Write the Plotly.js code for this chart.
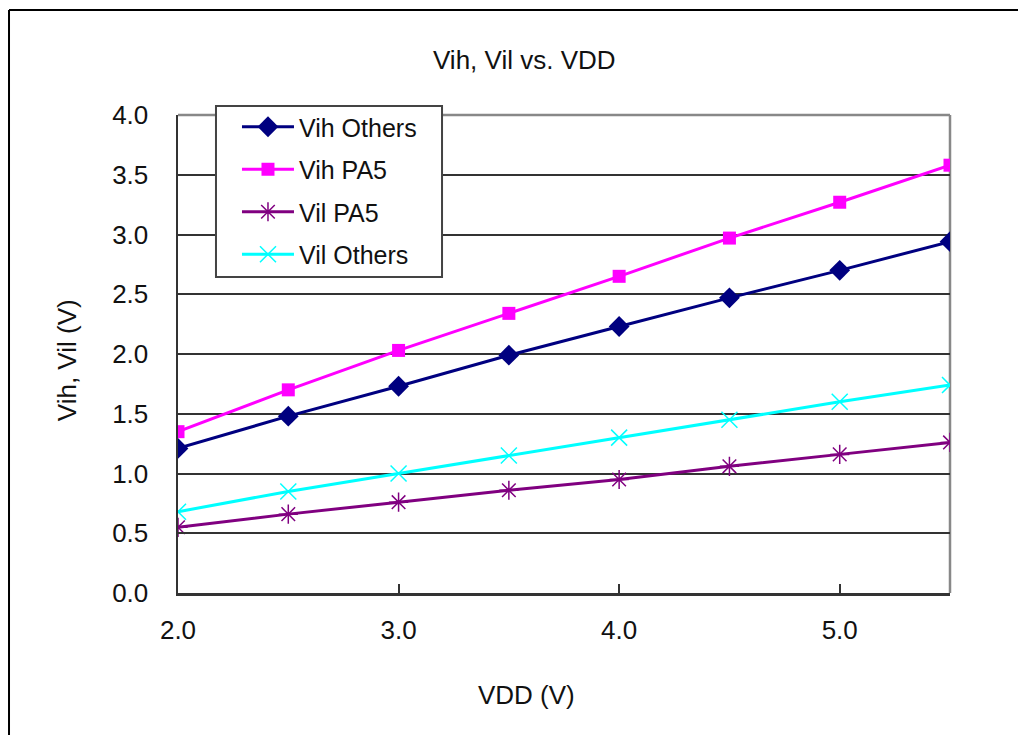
<!DOCTYPE html>
<html>
<head>
<meta charset="utf-8">
<script src="https://cdn.plot.ly/plotly-3.0.1.min.js"></script>
<style>
  html, body { margin: 0; padding: 0; background: #fff; }
  #chart { width: 1018px; height: 735px; }
</style>
</head>
<body>
<div id="chart"></div>
<script>
// ---- data ----
const vdd = [2.0, 2.5, 3.0, 3.5, 4.0, 4.5, 5.0, 5.5];
const vihOthers = [1.21, 1.48, 1.73, 1.99, 2.23, 2.47, 2.70, 2.94];
const vihPA5    = [1.35, 1.70, 2.03, 2.34, 2.65, 2.97, 3.27, 3.58];
const vilPA5    = [0.55, 0.66, 0.76, 0.86, 0.95, 1.06, 1.16, 1.26];
const vilOthers = [0.68, 0.85, 1.00, 1.15, 1.30, 1.45, 1.60, 1.74];
const seriesNames = ["Vih Others", "Vih PA5", "Vil PA5", "Vil Others"];
const xTickVals = [2.0, 3.0, 4.0, 5.0];
const yTickVals = [0.0, 0.5, 1.0, 1.5, 2.0, 2.5, 3.0, 3.5, 4.0];

const FONT = "Liberation Sans, Arial, sans-serif";

const traces = [
  { x: vdd, y: vihOthers, name: seriesNames[0], legendgroup: "a",
    mode: "lines+markers", line: { color: "#000080", width: 3 },
    marker: { symbol: "diamond", size: 16, color: "#000080" } },
  { x: vdd, y: vihPA5, name: seriesNames[1], legendgroup: "b",
    mode: "lines+markers", line: { color: "#FF00FF", width: 3 },
    marker: { symbol: "square", size: 13, color: "#FF00FF" } },
  { x: vdd, y: vilPA5, name: seriesNames[2], legendgroup: "c",
    mode: "lines+markers", line: { color: "#800080", width: 3 },
    marker: { symbol: "asterisk-open", size: 16, color: "#800080", line: { color: "#800080", width: 1.5 } } },
  { x: vdd, y: vilOthers, name: seriesNames[3], legendgroup: "d",
    mode: "lines+markers", line: { color: "#00FFFF", width: 3 },
    marker: { symbol: "x-thin-open", size: 16, color: "#00FFFF", line: { color: "#00FFFF", width: 1.5 } } }
];

const layout = {
  width: 1018, height: 735,
  margin: { l: 178, r: 68, t: 115, b: 142, pad: 0 },
  paper_bgcolor: "#fff", plot_bgcolor: "#fff",
  font: { family: FONT, size: 25, color: "#111" },
  title: { text: "Vih, Vil vs. VDD", font: { family: FONT, size: 26, color: "#111" },
           xref: "container", yref: "container", x: 0.515, y: 0.918, xanchor: "center", yanchor: "middle" },
  xaxis: {
    range: [2.0, 5.5], tickvals: xTickVals, tickformat: ".1f",
    ticks: "inside", ticklen: 9, tickwidth: 2, tickcolor: "#333",
    showline: true, linecolor: "#333", linewidth: 2.5,
    showgrid: false, zeroline: false, ticklabelstandoff: 12,
    tickfont: { family: FONT, size: 26, color: "#111" }
  },
  yaxis: {
    range: [0, 4.0], tickvals: yTickVals, tickformat: ".1f",
    ticks: "inside", ticklen: 9, tickwidth: 2, tickcolor: "#333",
    showline: true, linecolor: "#333", linewidth: 2.5,
    showgrid: true, gridcolor: "#333", gridwidth: 2, zeroline: false,
    ticklabelstandoff: 22,
    tickfont: { family: FONT, size: 26, color: "#111" }
  },
  showlegend: true,
  legend: {
    x: 0.0492, y: 1.023, xanchor: "left", yanchor: "top",
    bgcolor: "rgba(0,0,0,0)", borderwidth: 0,
    font: { family: FONT, size: 25, color: "#111" },
    tracegroupgap: 7, itemwidth: 52, indentation: 21
  },
  annotations: [
    { text: "VDD (V)", xref: "paper", yref: "paper", x: 0.452, y: -0.213,
      xanchor: "center", yanchor: "middle", showarrow: false,
      font: { family: FONT, size: 26, color: "#111" } },
    { text: "Vih, Vil (V)", xref: "paper", yref: "paper", x: -0.1438, y: 0.487,
      xanchor: "center", yanchor: "middle", showarrow: false, textangle: -90,
      font: { family: FONT, size: 26, color: "#111" } }
  ],
  shapes: [
    // gray top and right border of plot area
    { type: "line", xref: "paper", yref: "paper", x0: 0, x1: 1, y0: 1, y1: 1,
      line: { color: "#888", width: 2.5 }, layer: "between" },
    { type: "line", xref: "paper", yref: "paper", x0: 1, x1: 1, y0: 0, y1: 1,
      line: { color: "#888", width: 2.5 }, layer: "between" },
    // legend box (white, bordered)
    { type: "rect", xref: "paper", yref: "paper", x0: 0.0492, x1: 0.342, y0: 0.661, y1: 1.0188,
      fillcolor: "#fff", line: { color: "#444", width: 2 }, layer: "above" },
    // outer chart frame (top & left visible)
    { type: "line", xref: "paper", yref: "paper", x0: -0.2189, x1: 1.2, y0: 1.2197, y1: 1.2197,
      line: { color: "#000", width: 2 } },
    { type: "line", xref: "paper", yref: "paper", x0: -0.2189, x1: -0.2189, y0: 1.2197, y1: -0.35,
      line: { color: "#000", width: 2 } }
  ]
};

Plotly.newPlot("chart", traces, layout, { displayModeBar: false, staticPlot: true });
</script>
</body>
</html>
